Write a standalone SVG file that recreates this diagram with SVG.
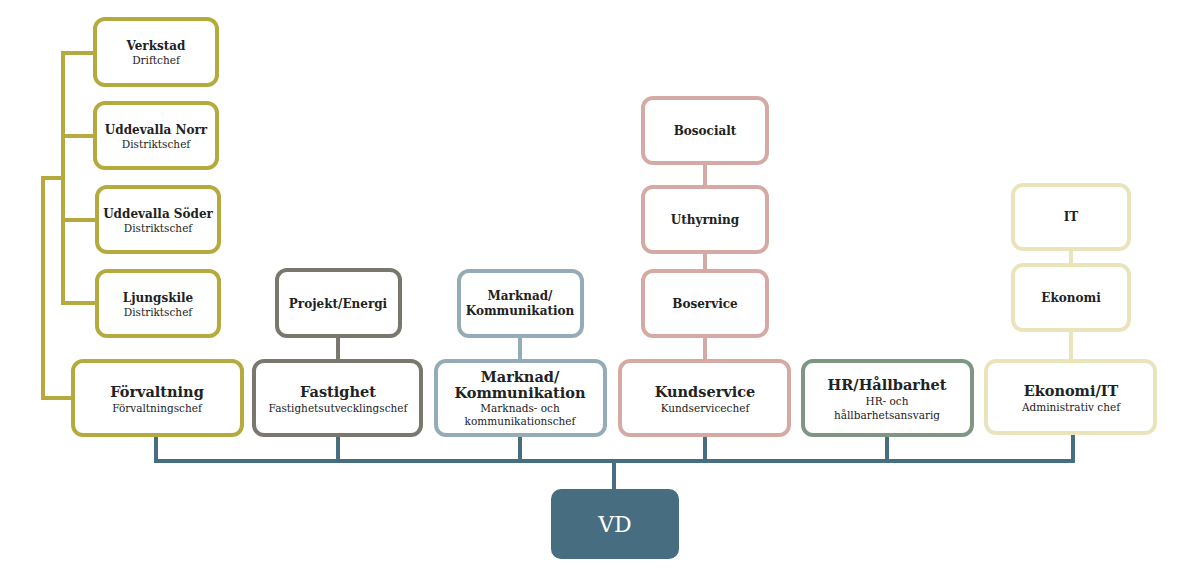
<svg xmlns="http://www.w3.org/2000/svg" width="1200" height="575" viewBox="0 0 1200 575">
<style>
rect{fill:#fff;stroke-width:4}
.o{stroke:#b5aa3e}.g{stroke:#7a786e}.b{stroke:#93acb6}.p{stroke:#d6aaa4}.h{stroke:#7f9682}.y{stroke:#e9e4bb}
text{font-family:"DejaVu Serif","Liberation Serif",serif;text-anchor:middle;fill:#222}
.t{font-size:12px;font-weight:bold}.s{font-size:10.5px}
.T{font-size:14.5px;font-weight:bold}
line,polyline{fill:none;stroke-width:4}
</style>
<g id="connectors">
<polyline points="217,53 63,53 63,303 97,303" stroke="#b5aa3e"/>
<line x1="63" y1="136" x2="97" y2="136" stroke="#b5aa3e"/>
<line x1="63" y1="220" x2="97" y2="220" stroke="#b5aa3e"/>
<polyline points="63,178 43,178 43,398 75,398" stroke="#b5aa3e"/>
<line x1="338" y1="336" x2="338" y2="361" stroke="#7a786e"/>
<line x1="520" y1="336" x2="520" y2="361" stroke="#93acb6"/>
<line x1="705" y1="163" x2="705" y2="361" stroke="#d6aaa4"/>
<line x1="1071" y1="249" x2="1071" y2="361" stroke="#e9e4bb"/>
<g stroke="#466d80">
<polyline points="156,435 156,461 1073,461 1073,435"/>
<line x1="338" y1="435" x2="338" y2="461"/>
<line x1="520" y1="435" x2="520" y2="461"/>
<line x1="705" y1="435" x2="705" y2="461"/>
<line x1="887" y1="435" x2="887" y2="461"/>
<line x1="614" y1="461" x2="614" y2="489"/>
</g>
</g>
<g id="verkstad"><rect class="o" x="95" y="19" width="122" height="66" rx="10"/><text class="t" x="156" y="50">Verkstad</text><text class="s" x="156" y="64">Driftchef</text></g>
<g id="norr"><rect class="o" x="95" y="103" width="122" height="65" rx="10"/><text class="t" x="156" y="134">Uddevalla Norr</text><text class="s" x="156" y="148">Distriktschef</text></g>
<g id="soder"><rect class="o" x="97" y="187" width="122" height="65" rx="10"/><text class="t" x="158" y="218">Uddevalla Söder</text><text class="s" x="158" y="232">Distriktschef</text></g>
<g id="ljungskile"><rect class="o" x="97" y="271" width="122" height="65" rx="10"/><text class="t" x="158" y="302">Ljungskile</text><text class="s" x="158" y="316">Distriktschef</text></g>
<g id="forvaltning"><rect class="o" x="73" y="361" width="169" height="74" rx="10"/><text class="T" x="157" y="397">Förvaltning</text><text class="s" x="157" y="412">Förvaltningschef</text></g>
<g id="projekt"><rect class="g" x="277" y="270" width="123" height="66" rx="10"/><text class="t" x="338" y="308">Projekt/Energi</text></g>
<g id="fastighet"><rect class="g" x="254" y="361" width="167" height="74" rx="10"/><text class="T" x="338" y="397">Fastighet</text><text class="s" x="338" y="412">Fastighetsutvecklingschef</text></g>
<g id="marknad-sub"><rect class="b" x="459" y="271" width="123" height="65" rx="10"/><text class="t" x="520" y="300">Marknad/</text><text class="t" x="520" y="315">Kommunikation</text></g>
<g id="marknad"><rect class="b" x="436" y="361" width="169" height="74" rx="10"/><text class="T" x="520" y="382">Marknad/</text><text class="T" x="520" y="398">Kommunikation</text><text class="s" x="520" y="412">Marknads- och</text><text class="s" x="520" y="425">kommunikationschef</text></g>
<g id="bosocialt"><rect class="p" x="643" y="98" width="124" height="65" rx="10"/><text class="t" x="705" y="135">Bosocialt</text></g>
<g id="uthyrning"><rect class="p" x="643" y="187" width="124" height="65" rx="10"/><text class="t" x="705" y="224">Uthyrning</text></g>
<g id="boservice"><rect class="p" x="643" y="271" width="124" height="65" rx="10"/><text class="t" x="705" y="308">Boservice</text></g>
<g id="kundservice"><rect class="p" x="620" y="361" width="169" height="74" rx="10"/><text class="T" x="705" y="397">Kundservice</text><text class="s" x="705" y="412">Kundservicechef</text></g>
<g id="hr"><rect class="h" x="803" y="361" width="169" height="74" rx="10"/><text class="T" x="887" y="390">HR/Hållbarhet</text><text class="s" x="887" y="405">HR- och</text><text class="s" x="887" y="419">hållbarhetsansvarig</text></g>
<g id="it"><rect class="y" x="1013" y="185" width="116" height="64" rx="10"/><text class="t" x="1071" y="221">IT</text></g>
<g id="ekonomi-sub"><rect class="y" x="1013" y="265" width="116" height="65" rx="10"/><text class="t" x="1071" y="302">Ekonomi</text></g>
<g id="ekonomi"><rect class="y" x="986" y="361" width="169" height="72" rx="10"/><text class="T" x="1071" y="396">Ekonomi/IT</text><text class="s" x="1071" y="411">Administrativ chef</text></g>
<g id="vd"><rect x="551" y="489" width="128" height="70" rx="10" style="fill:#466d80;stroke:none"/><text x="615" y="532" style="font-size:22px;fill:#fff">VD</text></g>
</svg>
